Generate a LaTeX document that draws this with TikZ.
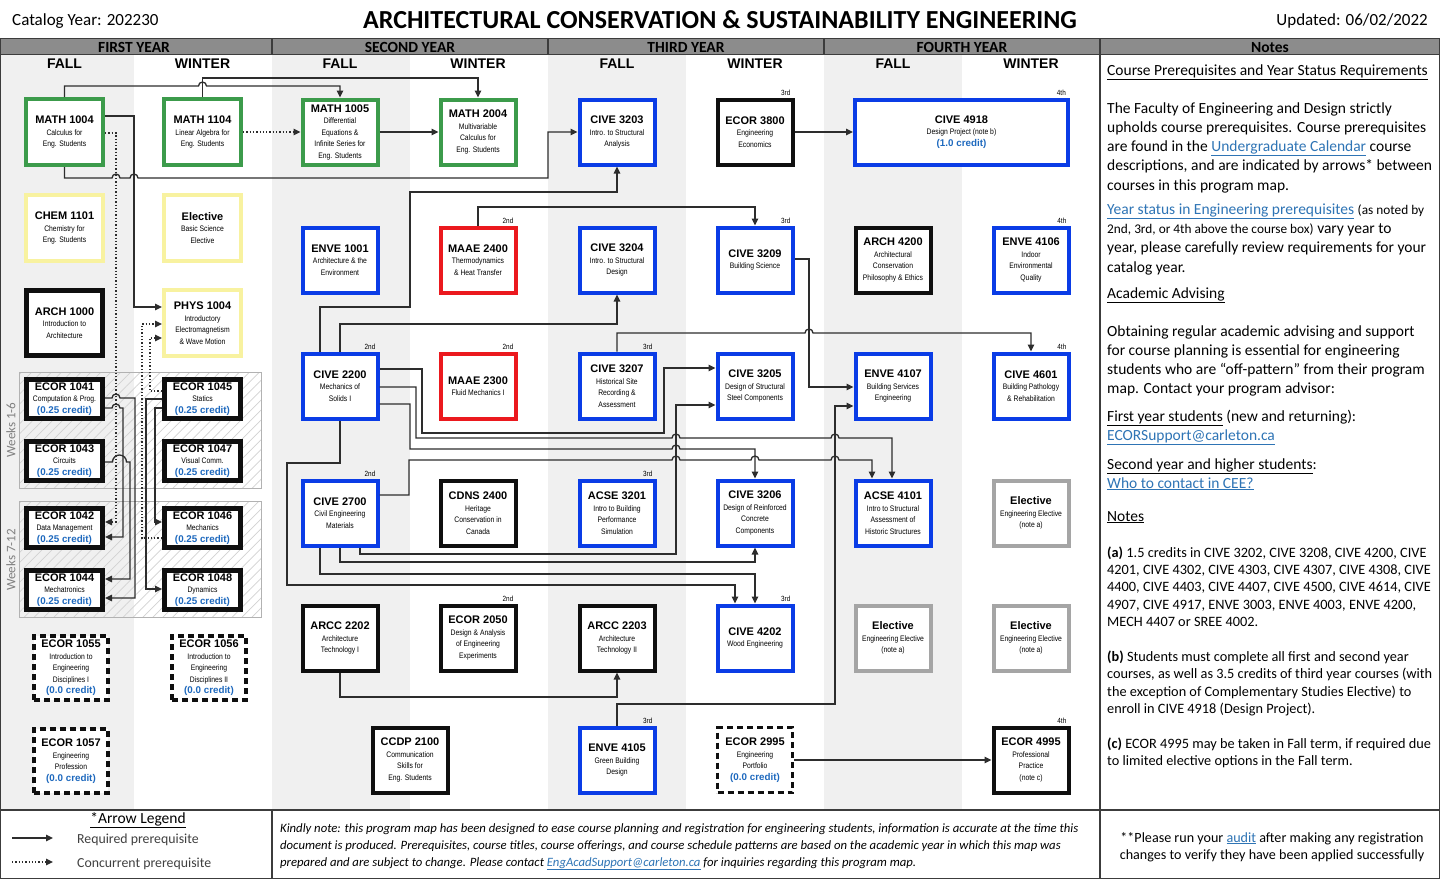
\documentclass[tikz,border=0pt]{standalone}
\usepackage{fontspec}
\setmainfont{Carlito}
\newfontfamily\arialf{Liberation Sans}
\newfontfamily\narrowf[FakeStretch=0.85]{Liberation Sans}
\usetikzlibrary{arrows.meta,patterns.meta}
\definecolor{cgreen}{RGB}{60,155,75}
\definecolor{cyellow}{RGB}{248,242,160}
\definecolor{cblue}{RGB}{10,60,230}
\definecolor{cred}{RGB}{235,25,30}
\definecolor{cgrayb}{RGB}{165,165,165}
\definecolor{cblack}{RGB}{15,15,15}
\definecolor{credc}{RGB}{30,105,190}
\definecolor{linkc}{RGB}{46,116,181}
\definecolor{colbg}{RGB}{240,240,240}
\definecolor{barbg}{RGB}{140,140,140}
\definecolor{linec}{RGB}{45,45,45}
\definecolor{frame}{RGB}{60,60,60}
\newcommand{\descf}{\narrowf\fontsize{8}{11.5}\selectfont}
\newcommand{\yrf}{\narrowf\fontsize{7.5}{9}\selectfont}
\newcommand{\ccode}[1]{{\arialf\bfseries\fontsize{11}{13}\selectfont #1}}
\newcommand{\crd}[1]{{\arialf\bfseries\fontsize{9.8}{12}\selectfont\color{credc}#1}}
\newcommand{\hp}[2]{-- ({#1-4},#2) arc[start angle=180,end angle=0,radius=4pt]}
\newcommand{\hpw}[3]{-- ({#1-#3},#2) arc[start angle=180,end angle=0,radius=#3pt]}
\newcommand{\lnk}[1]{\textcolor{linkc}{\underline{#1}}}
\tikzset{
 cb/.style={draw=cblack, line width=4pt, fill=white, inner sep=0pt, align=center, font=\descf, minimum width=75pt, minimum height=65pt},
 cbA/.style={cb, minimum width=77pt, minimum height=66pt},
 eb/.style={cb, line width=5pt, minimum width=76pt, minimum height=39pt},
 db/.style={cb, line width=3.5pt, dash pattern=on 6pt off 4pt, minimum width=74pt, minimum height=64pt},
 blu/.style={draw=cblue},
 yr/.style={font=\yrf, inner sep=0pt, anchor=south east, xshift=-4pt, yshift=2pt},
 arr/.style={draw=linec, line width=1.3pt, -{Triangle[length=7pt,width=6.5pt]}},
 darr/.style={arr, dotted},
 season/.style={font=\arialf\bfseries\fontsize{14}{16}\selectfont, inner sep=0pt},
 yearlab/.style={font=\bfseries\fontsize{15.5}{17}\selectfont, inner sep=0pt, anchor=base},
 note/.style={anchor=base west, inner sep=0pt, font=\fontsize{15.5}{18}\selectfont},
 notes/.style={anchor=base west, inner sep=0pt, font=\fontsize{14.3}{16}\selectfont},
 foot/.style={anchor=base west, inner sep=0pt, font=\itshape\fontsize{12.7}{15}\selectfont},
 grp/.style={draw=gray!60, line width=1pt, pattern={Lines[angle=45,distance=7pt,line width=0.7pt]}, pattern color=gray!35, inner sep=0pt},
}
\begin{document}
\begin{tikzpicture}[x=1pt,y=-1pt]
\useasboundingbox (0,0) rectangle (1440,879);
% backgrounds
\fill[white] (0,0) rectangle (1440,879);
\fill[colbg] (0,54.5) rectangle (134,810);
\fill[colbg] (272,54.5) rectangle (410,810);
\fill[colbg] (548,54.5) rectangle (686,810);
\fill[colbg] (824,54.5) rectangle (962,810);
% header bar
\fill[barbg] (0,38.5) rectangle (1440,54.5);
\draw[frame, line width=1.2pt] (0,38.5) -- (1440,38.5) (0,54.5) -- (1440,54.5);
\draw[frame, line width=1.2pt] (272,38.5) -- (272,54.5) (548,38.5) -- (548,54.5) (824,38.5) -- (824,54.5);
\draw[frame, line width=1.2pt] (1100,38.5) -- (1100,879) (0,810) -- (1440,810) (272,810) -- (272,879);
\draw[frame, line width=1.2pt] (0.6,38.5) -- (0.6,878.4) -- (1439.4,878.4) -- (1439.4,38.5);
% header texts
\node[anchor=base west, inner sep=0pt, font=\fontsize{17}{19}\selectfont] (cat) at (12,25) {Catalog Year: 202230};
\node[anchor=base, inner sep=0pt, font=\bfseries\fontsize{26}{29}\selectfont] (title) at (720,28) {ARCHITECTURAL CONSERVATION \& SUSTAINABILITY ENGINEERING};
\node[anchor=base east, inner sep=0pt, font=\fontsize{17}{19}\selectfont] (upd) at (1428,25) {Updated: 06/02/2022};
\node[yearlab] (y1) at (134,52) {FIRST YEAR};
\node[yearlab] (y2) at (410,52) {SECOND YEAR};
\node[yearlab] (y3) at (686,52) {THIRD YEAR};
\node[yearlab] (y4) at (962,52) {FOURTH YEAR};
\node[yearlab] (y5) at (1270,52) {Notes};
\node[season] (f1) at (64.5,63.5) {FALL};
\node[season] (w1) at (202.5,63.5) {WINTER};
\node[season] (f2) at (340,63.5) {FALL};
\node[season] (w2) at (478,63.5) {WINTER};
\node[season] (f3) at (617,63.5) {FALL};
\node[season] (w3) at (755,63.5) {WINTER};
\node[season] (f4) at (893,63.5) {FALL};
\node[season] (w4) at (1031,63.5) {WINTER};
% group boxes
\node[grp, minimum width=242pt, minimum height=116pt] (g1) at (140,430) {};
\node[grp, minimum width=242pt, minimum height=116pt] (g2) at (140,559) {};
\node[rotate=90, inner sep=0pt, text=gray, font=\fontsize{13}{15}\selectfont] (wk1) at (11,430) {Weeks 1-6};
\node[rotate=90, inner sep=0pt, text=gray, font=\fontsize{13}{15}\selectfont] (wk2) at (11,560) {Weeks 7-12};
% year 1 boxes
\node[cbA, draw=cgreen] (m1004) at (64.5,132) {\ccode{MATH 1004}\\Calculus for\\Eng. Students};
\node[cbA, draw=cgreen] (m1104) at (202.5,132) {\ccode{MATH 1104}\\Linear Algebra for\\Eng. Students};
\node[cbA, draw=cyellow] (chem) at (64.5,228) {\ccode{CHEM 1101}\\Chemistry for\\Eng. Students};
\node[cbA, draw=cyellow] (elb) at (202.5,228) {\ccode{Elective}\\Basic Science\\Elective};
\node[cbA, line width=5pt, minimum width=76pt, minimum height=65pt] (arch1000) at (64.5,323) {\ccode{ARCH 1000}\\Introduction to\\Architecture};
\node[cbA, draw=cyellow] (phys) at (202.5,323) {\ccode{PHYS 1004}\\Introductory\\Electromagnetism\\\& Wave Motion};
\node[eb] (e1041) at (64.5,399) {\ccode{ECOR 1041}\\Computation \& Prog.\\\crd{(0.25 credit)}};
\node[eb] (e1045) at (202.5,399) {\ccode{ECOR 1045}\\Statics\\\crd{(0.25 credit)}};
\node[eb] (e1043) at (64.5,461) {\ccode{ECOR 1043}\\Circuits\\\crd{(0.25 credit)}};
\node[eb] (e1047) at (202.5,461) {\ccode{ECOR 1047}\\Visual Comm.\\\crd{(0.25 credit)}};
\node[eb] (e1042) at (64.5,528) {\ccode{ECOR 1042}\\Data Management\\\crd{(0.25 credit)}};
\node[eb] (e1046) at (202.5,528) {\ccode{ECOR 1046}\\Mechanics\\\crd{(0.25 credit)}};
\node[eb] (e1044) at (64.5,590) {\ccode{ECOR 1044}\\Mechatronics\\\crd{(0.25 credit)}};
\node[eb] (e1048) at (202.5,590) {\ccode{ECOR 1048}\\Dynamics\\\crd{(0.25 credit)}};
\node[db] (e1055) at (71,668) {\ccode{ECOR 1055}\\Introduction to\\Engineering\\Disciplines I\\\crd{(0.0 credit)}};
\node[db] (e1056) at (209,668) {\ccode{ECOR 1056}\\Introduction to\\Engineering\\Disciplines II\\\crd{(0.0 credit)}};
\node[db] (e1057) at (71,761) {\ccode{ECOR 1057}\\Engineering\\Profession\\\crd{(0.0 credit)}};
% years 2-4 boxes
\node[cb, draw=cgreen] (m1005) at (340,132) {\ccode{MATH 1005}\\Differential\\Equations \&\\Infinite Series for\\Eng. Students};
\node[cb, draw=cgreen] (m2004) at (478,132) {\ccode{MATH 2004}\\Multivariable\\Calculus for\\Eng. Students};
\node[cb, blu] (c3203) at (617,132) {\ccode{CIVE 3203}\\Intro. to Structural\\Analysis};
\node[cb] (e3800) at (755,132) {\ccode{ECOR 3800}\\Engineering\\Economics};
\node[cb, blu, minimum width=213pt] (c4918) at (961.5,132) {\ccode{CIVE 4918}\\Design Project (note b)\\\crd{(1.0 credit)}};
\node[cb, blu] (enve1001) at (340,260) {\ccode{ENVE 1001}\\Architecture \& the\\Environment};
\node[cb, draw=cred] (maae2400) at (478,260) {\ccode{MAAE 2400}\\Thermodynamics\\\& Heat Transfer};
\node[cb, blu] (c3204) at (617,260) {\ccode{CIVE 3204}\\Intro. to Structural\\Design};
\node[cb, blu] (c3209) at (755,260) {\ccode{CIVE 3209}\\Building Science};
\node[cb] (arch4200) at (893,260) {\ccode{ARCH 4200}\\Architectural\\Conservation\\Philosophy \& Ethics};
\node[cb, blu] (enve4106) at (1031,260) {\ccode{ENVE 4106}\\Indoor\\Environmental\\Quality};
\node[cb, blu] (c2200) at (340,386) {\ccode{CIVE 2200}\\Mechanics of\\Solids I};
\node[cb, draw=cred] (maae2300) at (478,386) {\ccode{MAAE 2300}\\Fluid Mechanics I};
\node[cb, blu] (c3207) at (617,386) {\ccode{CIVE 3207}\\Historical Site\\Recording \&\\Assessment};
\node[cb, blu] (c3205) at (755,386) {\ccode{CIVE 3205}\\Design of Structural\\Steel Components};
\node[cb, blu] (enve4107) at (893,386) {\ccode{ENVE 4107}\\Building Services\\Engineering};
\node[cb, blu] (c4601) at (1031,386) {\ccode{CIVE 4601}\\Building Pathology\\\& Rehabilitation};
\node[cb, blu] (c2700) at (340,513) {\ccode{CIVE 2700}\\Civil Engineering\\Materials};
\node[cb] (cdns) at (478,513) {\ccode{CDNS 2400}\\Heritage\\Conservation in\\Canada};
\node[cb, blu] (acse3201) at (617,513) {\ccode{ACSE 3201}\\Intro to Building\\Performance\\Simulation};
\node[cb, blu] (c3206) at (755,513) {\ccode{CIVE 3206}\\Design of Reinforced\\Concrete\\Components};
\node[cb, blu] (acse4101) at (893,513) {\ccode{ACSE 4101}\\Intro to Structural\\Assessment of\\Historic Structures};
\node[cb, draw=cgrayb] (el4a) at (1031,513) {\ccode{Elective}\\Engineering Elective\\(note a)};
\node[cb] (arcc2202) at (340,638) {\ccode{ARCC 2202}\\Architecture\\Technology I};
\node[cb] (e2050) at (478,638) {\ccode{ECOR 2050}\\Design \& Analysis\\of Engineering\\Experiments};
\node[cb] (arcc2203) at (617,638) {\ccode{ARCC 2203}\\Architecture\\Technology II};
\node[cb, blu] (c4202) at (755,638) {\ccode{CIVE 4202}\\Wood Engineering};
\node[cb, draw=cgrayb] (el5a) at (893,638) {\ccode{Elective}\\Engineering Elective\\(note a)};
\node[cb, draw=cgrayb] (el5b) at (1031,638) {\ccode{Elective}\\Engineering Elective\\(note a)};
\node[cb] (ccdp) at (410,760) {\ccode{CCDP 2100}\\Communication\\Skills for\\Eng. Students};
\node[cb, blu] (enve4105) at (617,760) {\ccode{ENVE 4105}\\Green Building\\Design};
\node[db, minimum width=75pt, minimum height=65pt] (e2995) at (755,760) {\ccode{ECOR 2995}\\Engineering\\Portfolio\\\crd{(0.0 credit)}};
\node[cb] (e4995) at (1031,760) {\ccode{ECOR 4995}\\Professional\\Practice\\(note c)};
% year status labels
\node[yr] (s1) at (e3800.north east) {3rd};
\node[yr] (s2) at (c4918.north east) {4th};
\node[yr] (s3) at (maae2400.north east) {2nd};
\node[yr] (s4) at (c3209.north east) {3rd};
\node[yr] (s5) at (enve4106.north east) {4th};
\node[yr] (s6) at (c2200.north east) {2nd};
\node[yr] (s7) at (maae2300.north east) {2nd};
\node[yr] (s8) at (c3207.north east) {3rd};
\node[yr] (s9) at (c4601.north east) {4th};
\node[yr] (s10) at (c2700.north east) {2nd};
\node[yr] (s11) at (acse3201.north east) {3rd};
\node[yr] (s12) at (e2050.north east) {2nd};
\node[yr] (s13) at (c4202.north east) {3rd};
\node[yr] (s14) at (enve4105.north east) {3rd};
\node[yr] (s15) at (e4995.north east) {4th};
% connectors year 1
\draw[arr] (m1004.north) -- (64.5,86) \hp{202.5}{86} -| (m1005.north);
\draw[arr] (m1104.north) -- (202.5,78) -| (m2004.north);
\draw[darr] (m1104.east) -- (m1005.west);
\draw[arr] (m1005.east) -- (m2004.west);
\draw[arr] (m1004.south) -- (64.5,178) \hp{116}{178} \hp{134}{178} -- (548,178) |- (c3203.west);
\draw[arr] (m1004.east |- 0,116) -| (134,307) -- (phys.west |- 0,307);
\draw[darr] (m1004.east |- 0,133) -| (116,522) -- (e1042.east |- 0,522);
\draw[darr] (e1046.west |- 0,538) -| (142,324) -- (phys.west |- 0,324);
\draw[darr] (e1045.west |- 0,391) -| (150,338) -- (phys.west |- 0,338);
\draw[arr] (e1045.west |- 0,399) -| (146,589) -- (e1048.west |- 0,589);
\draw[arr] (e1045.west |- 0,408) -| (155,522) -- (e1046.west |- 0,522);
\draw[arr] (e1041.east |- 0,398) \hp{116}{398} -| (135,598) -- (e1044.east |- 0,598);
\draw[arr] (e1041.east |- 0,408) \hp{116}{408} -| (123,537) -- (e1042.east |- 0,537);
\draw[arr] (e1043.east |- 0,462) \hpw{119.5}{462}{7} -| (130,579) -- (e1044.east |- 0,579);
% connectors years 2-4
\draw[arr] (c2200.north -| 320,0) |- (410,307) |- (617,192) -- (c3203.south);
\draw[arr] (c2200.north) |- (617,324) -- (c3204.south);
\draw[arr] (maae2400.north) |- (755,207) -- (c3209.north);
\draw[arr] (c3207.north) -- (617,333) \hp{809}{333} -| (c4601.north);
\draw[arr] (c3209.east |- 0,259) -| (809,387) -- (enve4107.west |- 0,387);
\draw[arr] (e3800.east) -- (c4918.west);
\draw[arr] (c2200.east |- 0,369) -| (422,433) -| (664,368) -- (c3205.west |- 0,368);
\draw[arr] (c2200.east |- 0,387) -| (416,438) \hp{676}{438} \hp{835}{438} -| (acse4101.north -| 892,0);
\draw[arr] (c2200.east |- 0,404) -| (410,449) \hp{676}{449} -| (c3206.north);
\draw[arr] (c2700.east |- 0,495) -| (409,460) \hp{676}{460} \hp{755}{460} \hp{835}{460} -| (acse4101.north -| 872,0);
\draw[arr] (c2700.south -| 360,0) |- (676,554) |- (c3205.west |- 0,405);
\draw[arr] (c2700.south) |- (755,562) -- (c3206.south);
\draw[arr] (c2700.south -| 320,0) |- (755,574) -- (c4202.north);
\draw[arr] (c2200.south) |- (287,463) |- (735,585) -- (c4202.north -| 735,0);
\draw[arr] (enve4105.north) |- (835,704) |- (enve4107.west |- 0,406);
\draw[arr] (arcc2202.south) |- (617,697) -- (arcc2203.south);
\draw[arr] (e2995.east) -- (e4995.west);
% notes
\node[note] (n1) at (1107,75) {\underline{Course Prerequisites and Year Status Requirements}};
\node[note] (n2) at (1107,113) {The Faculty of Engineering and Design strictly};
\node[note] (n3) at (1107,132) {upholds course prerequisites. Course prerequisites};
\node[note] (n4) at (1107,151) {are found in the \lnk{Undergraduate Calendar} course};
\node[note] (n5) at (1107,170) {descriptions, and are indicated by arrows* between};
\node[note] (n6) at (1107,190) {courses in this program map.};
\node[note] (n7) at (1107,214) {\lnk{Year status in Engineering prerequisites} {\fontsize{13.3}{15}\selectfont(as noted by}};
\node[note] (n8) at (1107,233) {{\fontsize{13.3}{15}\selectfont 2nd, 3rd, or 4th above the course box)} vary year to};
\node[note] (n9) at (1107,252) {year, please carefully review requirements for your};
\node[note] (n10) at (1107,272) {catalog year.};
\node[note] (n11) at (1107,298) {\underline{Academic Advising}};
\node[note] (n12) at (1107,336) {Obtaining regular academic advising and support};
\node[note] (n13) at (1107,355) {for course planning is essential for engineering};
\node[note] (n14) at (1107,374) {students who are “off-pattern” from their program};
\node[note] (n15) at (1107,393) {map. Contact your program advisor:};
\node[note] (n16) at (1107,421) {\underline{First year students} (new and returning):};
\node[note] (n17) at (1107,440) {\lnk{ECORSupport@carleton.ca}};
\node[note] (n18) at (1107,469) {\underline{Second year and higher students}:};
\node[note] (n19) at (1107,488) {\lnk{Who to contact in CEE?}};
\node[note] (n20) at (1107,521) {\underline{Notes}};
\node[notes] (a1) at (1107,557) {\textbf{(a)} 1.5 credits in CIVE 3202, CIVE 3208, CIVE 4200, CIVE};
\node[notes] (a2) at (1107,574) {4201, CIVE 4302, CIVE 4303, CIVE 4307, CIVE 4308, CIVE};
\node[notes] (a3) at (1107,591) {4400, CIVE 4403, CIVE 4407, CIVE 4500, CIVE 4614, CIVE};
\node[notes] (a4) at (1107,609) {4907, CIVE 4917, ENVE 3003, ENVE 4003, ENVE 4200,};
\node[notes] (a5) at (1107,626) {MECH 4407 or SREE 4002.};
\node[notes] (b1) at (1107,661) {\textbf{(b)} Students must complete all first and second year};
\node[notes] (b2) at (1107,678) {courses, as well as 3.5 credits of third year courses (with};
\node[notes] (b3) at (1107,696) {the exception of Complementary Studies Elective) to};
\node[notes] (b4) at (1107,713) {enroll in CIVE 4918 (Design Project).};
\node[notes] (c1) at (1107,748) {\textbf{(c)} ECOR 4995 may be taken in Fall term, if required due};
\node[notes] (c2) at (1107,765) {to limited elective options in the Fall term.};
% footer
\node[anchor=base, inner sep=0pt, font=\fontsize{15.5}{18}\selectfont] (leg) at (138,823) {\underline{*Arrow Legend}};
\coordinate (la1) at (12,838);
\coordinate (la2) at (53,838);
\coordinate (lb1) at (12,862);
\coordinate (lb2) at (53,862);
\draw[arr] (la1) -- (la2);
\draw[darr] (lb1) -- (lb2);
\node[anchor=base west, inner sep=0pt, text=black!75, font=\fontsize{13.8}{16}\selectfont] (lt1) at (77,843) {Required prerequisite};
\node[anchor=base west, inner sep=0pt, text=black!75, font=\fontsize{13.8}{16}\selectfont] (lt2) at (77,867) {Concurrent prerequisite};
\node[foot] (k1) at (280,832) {Kindly note: this program map has been designed to ease course planning and registration for engineering students, information is accurate at the time this};
\node[foot] (k2) at (280,849) {document is produced. Prerequisites, course titles, course offerings, and course schedule patterns are based on the academic year in which this map was};
\node[foot] (k3) at (280,866) {prepared and are subject to change. Please contact \lnk{EngAcadSupport@carleton.ca} for inquiries regarding this program map.};
\node[anchor=base, inner sep=0pt, font=\fontsize{14.1}{16}\selectfont] (r1) at (1272,842) {**Please run your \lnk{audit} after making any registration};
\node[anchor=base, inner sep=0pt, font=\fontsize{14.1}{16}\selectfont] (r2) at (1272,859) {changes to verify they have been applied successfully};
\end{tikzpicture}
\end{document}
